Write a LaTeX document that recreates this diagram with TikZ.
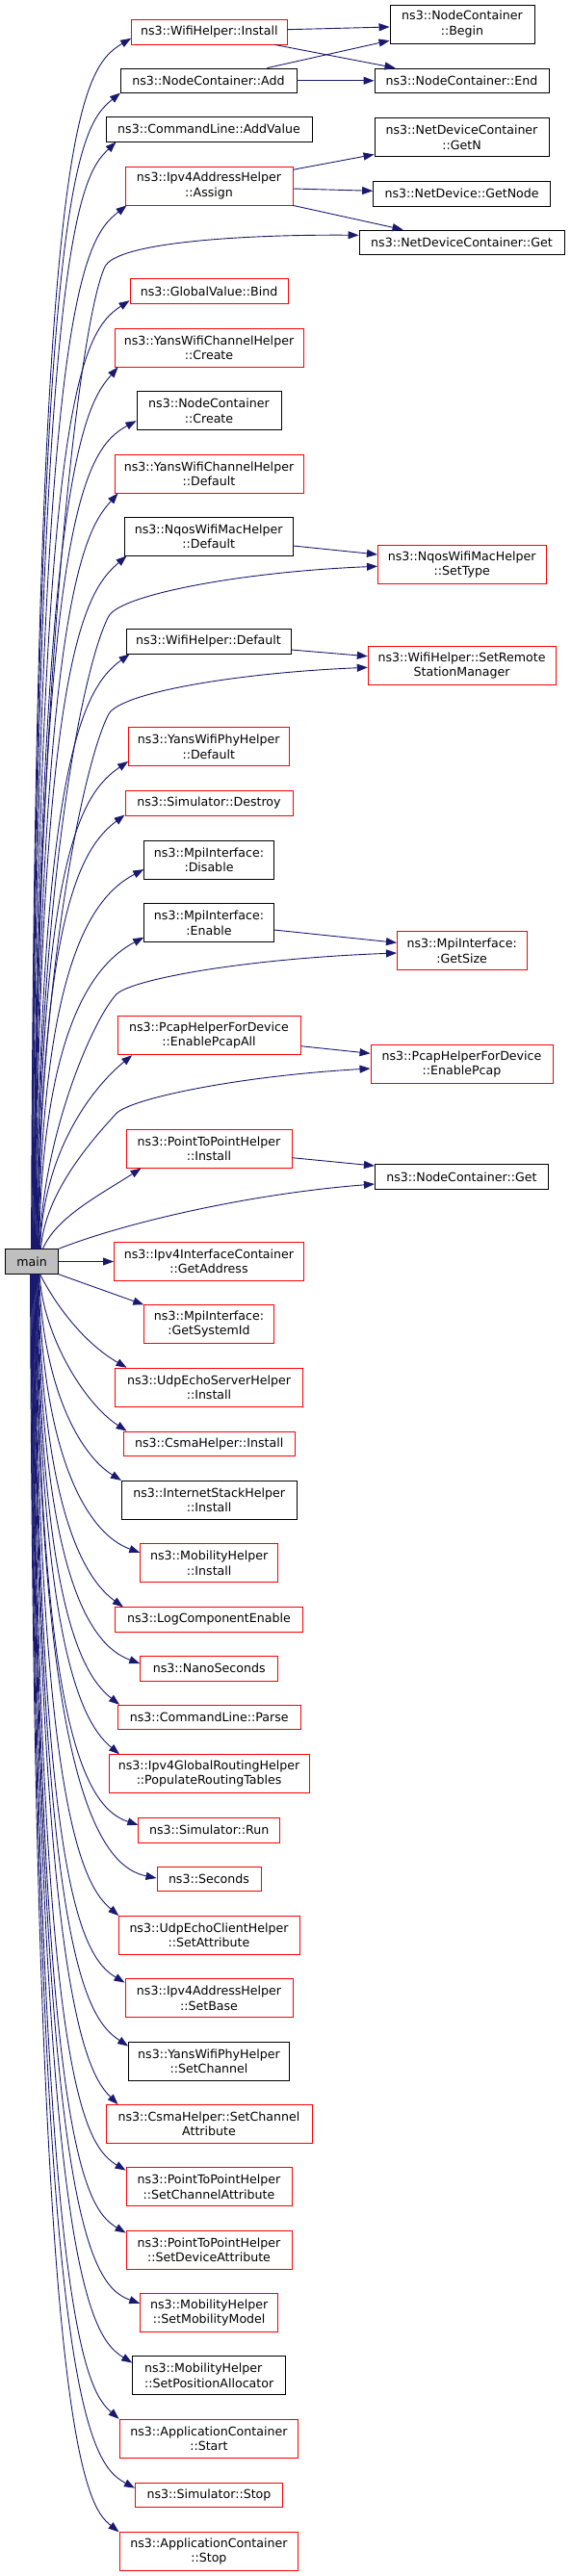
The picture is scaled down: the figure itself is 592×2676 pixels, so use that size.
\documentclass[tikz,border=0pt]{standalone}
\usepackage{fontspec}
\setmainfont{DejaVu Sans}
\usetikzlibrary{arrows.meta,calc}
\definecolor{edgec}{RGB}{25,25,112}
\definecolor{mainfill}{RGB}{191,191,191}
\begin{document}
\begin{tikzpicture}[x=1pt,y=-1pt,
  box/.style={draw, line width=0.9pt, inner sep=0pt, align=center,
    font=\fontsize{12.6}{15.3}\selectfont, minimum height=25.5pt},
  rbox/.style={box, draw=red},
  kbox/.style={box, draw=black},
  two/.style={minimum height=40pt},
  e/.style={draw=edgec, line width=0.9pt, -{Triangle[length=11pt,width=8pt]}}]
\useasboundingbox (0,0) rectangle (592,2676);

% main
\node[kbox, fill=mainfill, minimum width=54.7pt] (main) at (33,1310.5) {main};

% column 3
\node[kbox,two,minimum width=150pt] (nBegin) at (480,25) {ns3::NodeContainer\\::Begin};
\node[kbox,minimum width=181pt] (nEnd) at (479.5,83.8) {ns3::NodeContainer::End};
\node[kbox,two,minimum width=181pt] (nGetN) at (479.5,142.7) {ns3::NetDeviceContainer\\::GetN};
\node[kbox,minimum width=184pt] (nGetNode) at (479.6,201.2) {ns3::NetDevice::GetNode};
\node[kbox,minimum width=213pt] (nNDGet) at (479.5,251.8) {ns3::NetDeviceContainer::Get};
\node[rbox,two,minimum width=174.5pt] (nSetType) at (479.7,586.5) {ns3::NqosWifiMacHelper\\::SetType};
\node[rbox,two,minimum width=194.7pt] (nSetRSM) at (479.6,691.8) {ns3::WifiHelper::SetRemote\\StationManager};
\node[rbox,two,minimum width=134.5pt] (nGetSize) at (479.7,987.7) {ns3::MpiInterface:\\:GetSize};
\node[rbox,two,minimum width=189pt] (nEnablePcap) at (479.5,1105.3) {ns3::PcapHelperForDevice\\::EnablePcap};
\node[kbox,minimum width=180pt] (nNCGet) at (479.4,1222.3) {ns3::NodeContainer::Get};

% column 2
\node[rbox,minimum width=161.4pt] (nInstall) at (217.3,33.3) {ns3::WifiHelper::Install};
\node[kbox,minimum width=183pt] (nAdd) at (216.5,83.8) {ns3::NodeContainer::Add};
\node[kbox,minimum width=214pt] (nAddValue) at (217,134.3) {ns3::CommandLine::AddValue};
\node[rbox,two,minimum width=174pt] (nAssign) at (217,193) {ns3::Ipv4AddressHelper\\::Assign};
\node[rbox,minimum width=164pt] (nBind) at (217,302.5) {ns3::GlobalValue::Bind};
\node[rbox,two,minimum width=196pt] (nYCreate) at (217,361) {ns3::YansWifiChannelHelper\\::Create};
\node[kbox,two,minimum width=150pt] (nNCreate) at (217,426.7) {ns3::NodeContainer\\::Create};
\node[rbox,two,minimum width=196pt] (nYDefault) at (217,492) {ns3::YansWifiChannelHelper\\::Default};
\node[kbox,two,minimum width=174.6pt] (nNqDefault) at (216.7,557) {ns3::NqosWifiMacHelper\\::Default};
\node[kbox,minimum width=171pt] (nWDefault) at (216.5,666.3) {ns3::WifiHelper::Default};
\node[rbox,two,minimum width=166.4pt] (nPhyDefault) at (216.8,775.8) {ns3::YansWifiPhyHelper\\::Default};
\node[rbox,minimum width=174pt] (nDestroy) at (217,834.3) {ns3::Simulator::Destroy};
\node[kbox,two,minimum width=134.5pt] (nDisable) at (217,893) {ns3::MpiInterface:\\:Disable};
\node[kbox,two,minimum width=134.5pt] (nEnable) at (217,958.7) {ns3::MpiInterface:\\:Enable};
\node[rbox,two,minimum width=190pt] (nPcapAll) at (217,1075.7) {ns3::PcapHelperForDevice\\::EnablePcapAll};
\node[rbox,two,minimum width=172pt] (nP2PInstall) at (217,1193.2) {ns3::PointToPointHelper\\::Install};
\node[rbox,two,minimum width=197pt] (nGetAddress) at (217,1310.5) {ns3::Ipv4InterfaceContainer\\::GetAddress};
\node[rbox,two,minimum width=134.5pt] (nSystemId) at (217,1375.8) {ns3::MpiInterface:\\:GetSystemId};
\node[rbox,two,minimum width=194.7pt] (nUdpServer) at (217,1441.2) {ns3::UdpEchoServerHelper\\::Install};
\node[rbox,minimum width=177.7pt] (nCsmaInstall) at (217.2,1499.7) {ns3::CsmaHelper::Install};
\node[kbox,two,minimum width=181.6pt] (nStack) at (217.2,1558.3) {ns3::InternetStackHelper\\::Install};
\node[rbox,two,minimum width=143pt] (nMobInstall) at (217.2,1623.7) {ns3::MobilityHelper\\::Install};
\node[rbox,minimum width=194.7pt] (nLog) at (217,1682.5) {ns3::LogComponentEnable};
\node[rbox,minimum width=143pt] (nNano) at (217.2,1733.2) {ns3::NanoSeconds};
\node[rbox,minimum width=189.7pt] (nParse) at (217.2,1784) {ns3::CommandLine::Parse};
\node[rbox,two,minimum width=207.8pt] (nPopulate) at (217.1,1842.7) {ns3::Ipv4GlobalRoutingHelper\\::PopulateRoutingTables};
\node[rbox,minimum width=146.8pt] (nRun) at (217.2,1901.2) {ns3::Simulator::Run};
\node[rbox,minimum width=108pt] (nSeconds) at (217,1952) {ns3::Seconds};
\node[rbox,two,minimum width=188pt] (nClientAttr) at (217,2010.5) {ns3::UdpEchoClientHelper\\::SetAttribute};
\node[rbox,two,minimum width=174pt] (nSetBase) at (217,2075.7) {ns3::Ipv4AddressHelper\\::SetBase};
\node[kbox,two,minimum width=166.8pt] (nSetChannel) at (217,2141) {ns3::YansWifiPhyHelper\\::SetChannel};
\node[rbox,two,minimum width=214pt] (nCsmaAttr) at (217,2206.5) {ns3::CsmaHelper::SetChannel\\Attribute};
\node[rbox,two,minimum width=172pt] (nP2PChan) at (217,2271.7) {ns3::PointToPointHelper\\::SetChannelAttribute};
\node[rbox,two,minimum width=172pt] (nP2PDev) at (217,2337) {ns3::PointToPointHelper\\::SetDeviceAttribute};
\node[rbox,two,minimum width=143pt] (nMobModel) at (217.2,2402.7) {ns3::MobilityHelper\\::SetMobilityModel};
\node[kbox,two,minimum width=159pt,align=left] (nPosAlloc) at (217.2,2467.7) {ns3::MobilityHelper\\::SetPositionAllocator};
\node[rbox,two,minimum width=185.8pt] (nAppStart) at (216.9,2533.2) {ns3::ApplicationContainer\\::Start};
\node[rbox,minimum width=153.2pt] (nSimStop) at (217,2591.8) {ns3::Simulator::Stop};
\node[rbox,two,minimum width=185.8pt] (nAppStop) at (216.9,2650.7) {ns3::ApplicationContainer\\::Stop};

% secondary edges
\draw[e] ($(nInstall.east)+(0,-2.6)$) -- ($(nBegin.west)+(0,3)$);
\draw[e] ($(nInstall.south east)+(-13,0)$) -- ($(nEnd.north west)+(22,0)$);
\draw[e] ($(nAdd.north east)+(-31,0)$) -- ($(nBegin.south west)+(0,-3.3)$);
\draw[e] (nAdd.east) -- (nEnd.west);
\draw[e] ($(nAssign.north east)+(0,3.7)$) -- ($(nGetN.south west)+(0,-2.7)$);
\draw[e] ($(nAssign.east)+(0,3)$) -- ($(nGetNode.west)+(0,-2.9)$);
\draw[e] (nAssign.south east) -- ($(nNDGet.north west)+(46,0)$);
\draw[e] ($(nNqDefault.east)+(0,10)$) -- ($(nSetType.west)+(0,-10.5)$);
\draw[e] ($(nWDefault.east)+(0,8.7)$) -- ($(nSetRSM.west)+(0,-10.1)$);
\draw[e] ($(nEnable.east)+(0,7.3)$) -- ($(nGetSize.west)+(0,-8.4)$);
\draw[e] ($(nPcapAll.east)+(0,11)$) -- ($(nEnablePcap.west)+(0,-11)$);
\draw[e] ($(nP2PInstall.east)+(0,9.5)$) -- ($(nNCGet.west)+(0,-11.3)$);

% main -> upper callees
\draw[e] ($(main.north west)+(27.35,0)$) .. controls (36,139.3) and (81.6,72.3) .. ($(nInstall.south west)+(0,-6.7)$);
\draw[e] ($(main.north west)+(27.85,0)$) .. controls (36.5,196.7) and (80.3,132.7) .. ($(nAdd.south west)+(0.5,-0.5)$);
\draw[e] ($(main.north west)+(28.35,0)$) .. controls (37,247) and (83,183) .. ($(nAddValue.south west)+(11,0)$);
\draw[e] ($(main.north west)+(28.85,0)$) .. controls (37.5,313) and (87,248) .. ($(nAssign.south west)+(2,0)$);
\draw[e] ($(main.north west)+(29.35,0)$) .. controls (38,700) and (83.2,331) .. (109,277) .. controls (121,252) and (250,243.5) .. ($(nNDGet.west)+(0,-7.5)$);
\draw[e] ($(main.north west)+(29.85,0)$) .. controls (38.5,411.7) and (85,344.7) .. ($(nBind.south west)+(0,-3.5)$);
\draw[e] ($(main.north west)+(30.35,0)$) .. controls (39,481.7) and (91,417.7) .. ($(nYCreate.south west)+(4,0)$);
\draw[e] ($(main.north west)+(30.85,0)$) .. controls (39.5,536.7) and (87.3,466.7) .. ($(nNCreate.south west)+(0,-10)$);
\draw[e] ($(main.north west)+(31.35,0)$) .. controls (40,611.7) and (91,547.7) .. ($(nYDefault.south west)+(4,0)$);
\draw[e] ($(main.north west)+(31.85,0)$) .. controls (40.5,677) and (90,613) .. ($(nNqDefault.south west)+(2.6,0)$);
\draw[e] ($(main.north west)+(32.35,0)$) .. controls (41,900) and (89,684) .. (113,640) .. controls (125,618) and (250,594) .. ($(nSetType.west)+(0,1.8)$);
\draw[e] ($(main.north west)+(32.85,0)$) .. controls (41.5,779) and (90,712) .. ($(nWDefault.south west)+(4,0)$);
\draw[e] ($(main.north west)+(33.35,0)$) .. controls (42,1000) and (89,785.7) .. (113,741.7) .. controls (125,719.7) and (245,699) .. ($(nSetRSM.west)+(0,1.5)$);
\draw[e] ($(main.north west)+(33.85,0)$) .. controls (42.5,890.7) and (83.6,824.7) .. ($(nPhyDefault.south west)+(0,-5.3)$);
\draw[e] ($(main.north west)+(34.35,0)$) .. controls (43,946) and (85,880) .. ($(nDestroy.south west)+(0,-1)$);
\draw[e] ($(main.north west)+(34.85,0)$) .. controls (43.5,1002.7) and (95,931.7) .. ($(nDisable.south west)+(0,-10.3)$);
\draw[e] ($(main.north west)+(35.35,0)$) .. controls (44,1073.3) and (95,1002.3) .. ($(nEnable.south west)+(0,-5.4)$);
\draw[e] ($(main.north west)+(35.85,0)$) .. controls (44.5,1180) and (95.8,1060) .. (120.8,1033) .. controls (134.8,1018) and (250,996) .. ($(nGetSize.west)+(0,2.3)$);
\draw[e] ($(main.north west)+(36.35,0)$) .. controls (45,1196) and (95.7,1130) .. ($(nPcapAll.south west)+(15.7,0)$);
\draw[e] ($(main.north west)+(37.35,0)$) .. controls (46,1240) and (95.8,1183.7) .. (120.8,1156.7) .. controls (134.8,1141.6) and (245,1118) .. ($(nEnablePcap.west)+(0,4.7)$);
\draw[e] ($(main.north west)+(39.35,0)$) .. controls (58,1265) and (102,1242.3) .. ($(nP2PInstall.south west)+(16,0)$);
\draw[e] (main.north east) .. controls (130,1270) and (260,1240) .. ($(nNCGet.west)+(0,7.7)$);

% main -> same level
\draw[e] (main.east) -- (nGetAddress.west);

% main -> lower callees
\draw[e] (main.south east) -- (nSystemId.north west);
\draw[e] ($(main.south west)+(36.35,0)$) .. controls (58,1356) and (87,1395) .. ($(nUdpServer.north west)+(12.4,0)$);
\draw[e] ($(main.south west)+(35.85,0)$) .. controls (44.5,1386.7) and (87,1457.7) .. ($(nCsmaInstall.north west)+(3.7,0)$);
\draw[e] ($(main.south west)+(35.35,0)$) .. controls (44,1438.3) and (81.4,1510.3) .. (nStack.north west);
\draw[e] ($(main.south west)+(34.85,0)$) .. controls (43.5,1513.3) and (90.7,1593.3) .. ($(nMobInstall.north west)+(0,9.6)$);
\draw[e] ($(main.south west)+(34.35,0)$) .. controls (43,1569.7) and (88.3,1640.7) .. ($(nLog.north west)+(8.7,0)$);
\draw[e] ($(main.south west)+(33.85,0)$) .. controls (42.5,1628.3) and (90.7,1708.3) .. ($(nNano.north west)+(0,8)$);
\draw[e] ($(main.south west)+(33.35,0)$) .. controls (42,1671.3) and (86.5,1741.3) .. ($(nParse.north west)+(2.2,0)$);
\draw[e] ($(main.south west)+(32.85,0)$) .. controls (41.5,1722.7) and (88.5,1792.7) .. ($(nPopulate.north west)+(11.3,0)$);
\draw[e] ($(main.south west)+(32.35,0)$) .. controls (41,1796) and (88.8,1878) .. ($(nRun.north west)+(0,7.7)$);
\draw[e] ($(main.south west)+(31.85,0)$) .. controls (40.5,1851) and (103,1939) .. ($(nSeconds.west)+(0,-1)$);
\draw[e] ($(main.south west)+(31.35,0)$) .. controls (40,1890.7) and (88.8,1960.7) .. ($(nClientAttr.north west)+(0.8,0)$);
\draw[e] ($(main.south west)+(30.85,0)$) .. controls (39.5,1960) and (85,2033) .. ($(nSetBase.north west)+(0,4.3)$);
\draw[e] ($(main.south west)+(30.35,0)$) .. controls (39,2026) and (88.6,2096) .. ($(nSetChannel.north west)+(0,5)$);
\draw[e] ($(main.south west)+(29.85,0)$) .. controls (38.5,2086.7) and (93,2156.7) .. ($(nCsmaAttr.north west)+(13,0)$);
\draw[e] ($(main.south west)+(29.35,0)$) .. controls (38,2155) and (86,2228) .. ($(nP2PChan.north west)+(0,3.3)$);
\draw[e] ($(main.south west)+(28.85,0)$) .. controls (37.5,2220) and (86,2293) .. ($(nP2PDev.north west)+(0,3)$);
\draw[e] ($(main.south west)+(28.35,0)$) .. controls (37,2293.3) and (90.7,2373.3) .. ($(nMobModel.north west)+(0,10.6)$);
\draw[e] ($(main.south west)+(27.85,0)$) .. controls (36.5,2355) and (92.7,2427) .. ($(nPosAlloc.north west)+(0,7.3)$);
\draw[e] ($(main.south west)+(27.35,0)$) .. controls (36,2413.3) and (89.8,2483.3) .. (nAppStart.north west);
\draw[e] ($(main.south west)+(26.85,0)$) .. controls (35.5,2485) and (90.4,2558) .. ($(nSimStop.north west)+(0,6)$);
\draw[e] ($(main.south west)+(26.35,0)$) .. controls (35,2530.7) and (87.8,2601.7) .. (nAppStop.north west);
\end{tikzpicture}
\end{document}
